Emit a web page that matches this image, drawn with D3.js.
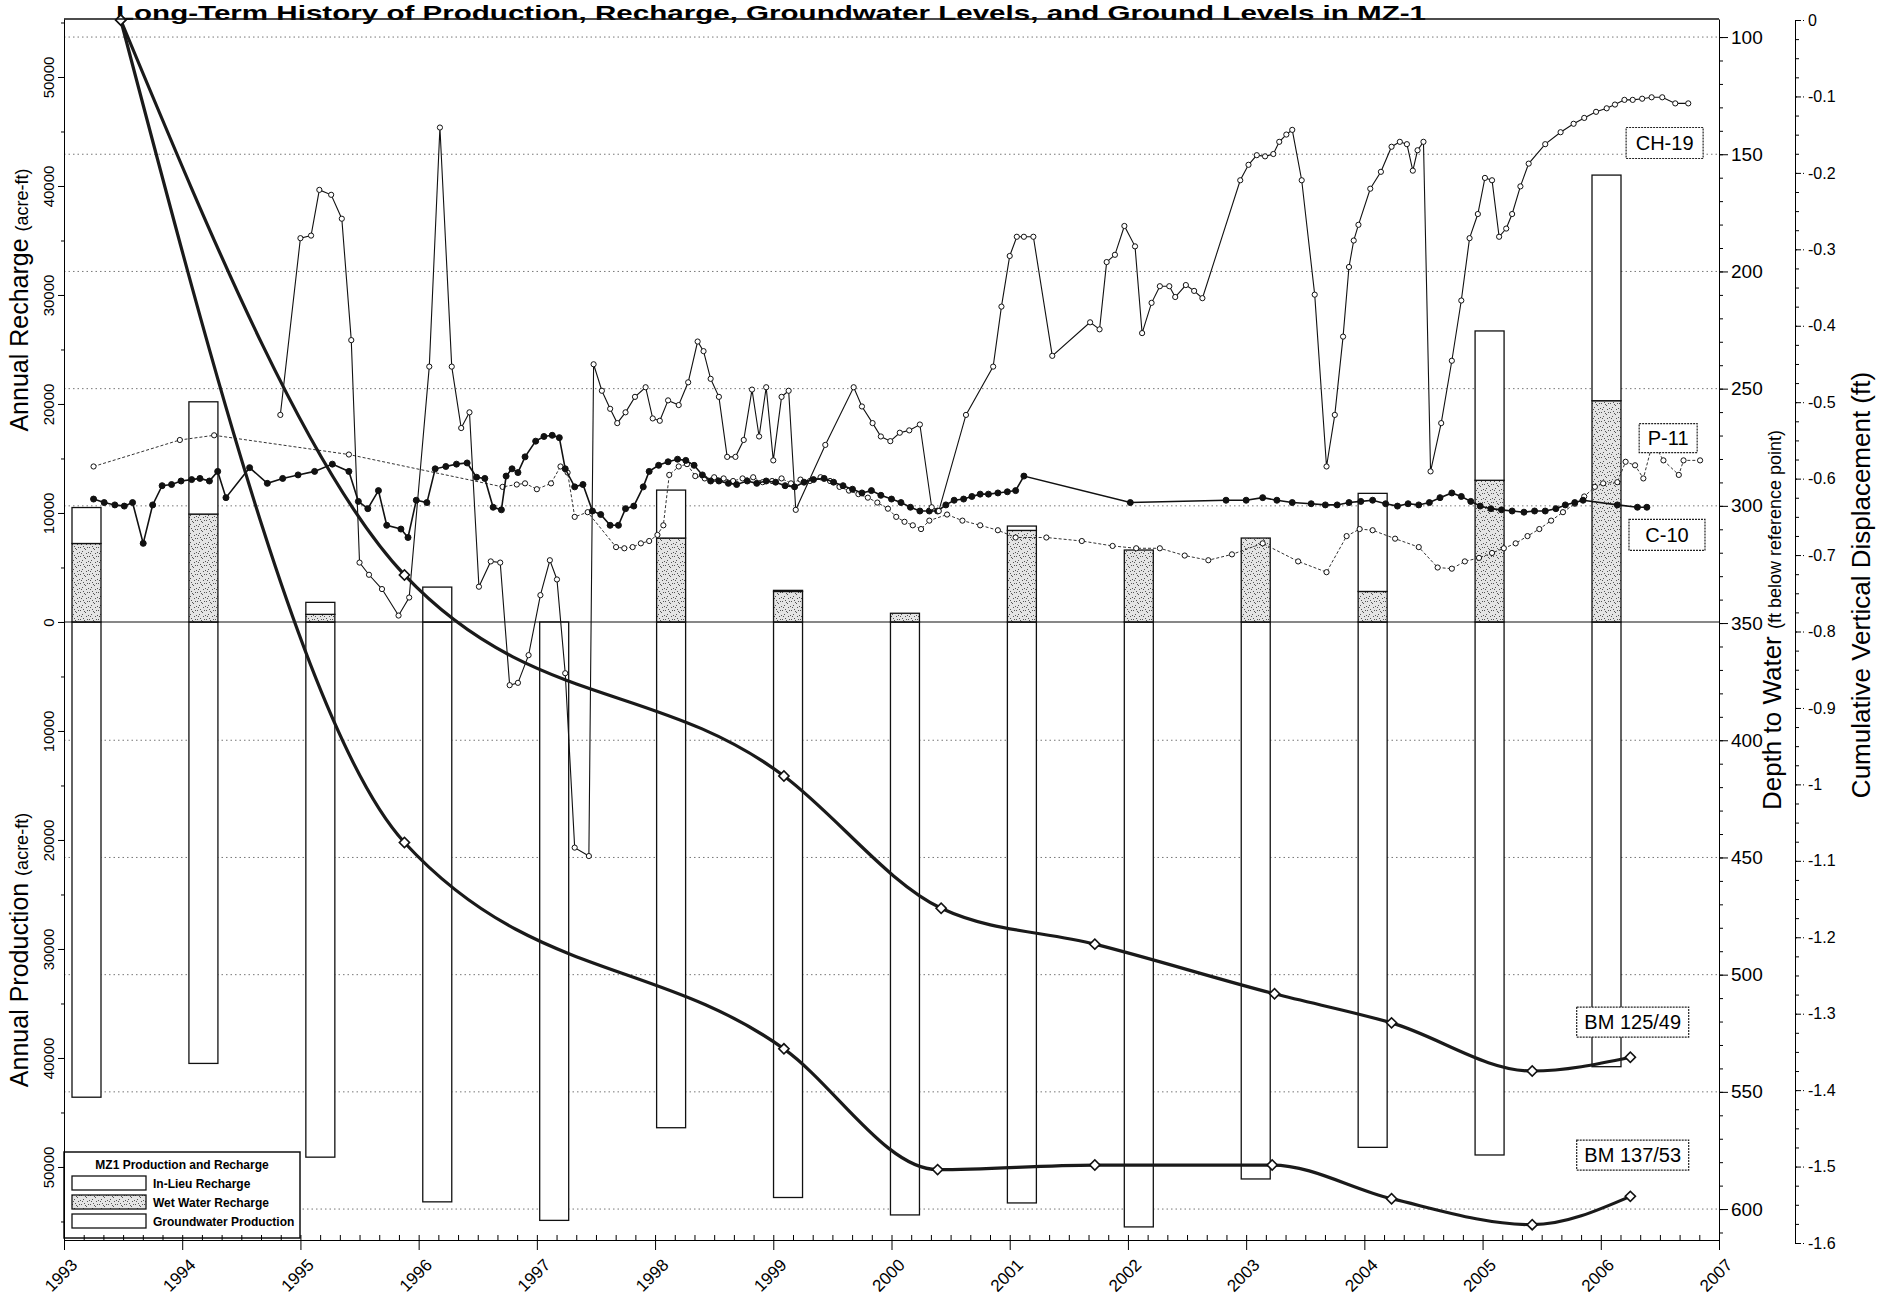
<!DOCTYPE html>
<html>
<head>
<meta charset="utf-8">
<script src="https://cdn.jsdelivr.net/npm/d3@7"></script>
<style>
  body { margin: 0; background: #fff; }
  svg { display: block; font-family: Arial, "Liberation Sans", sans-serif; }
</style>
</head>
<body>
<div id="chart"></div>
<script>
// annual volumes (acre-ft)
const years = [1993, 1994, 1995, 1996, 1997, 1998, 1999, 2000, 2001, 2002, 2003, 2004, 2005, 2006];
const wetRecharge = [7200, 9900, 700, 0, 0, 7700, 2800, 800, 8400, 6600, 7700, 2800, 13000, 20300];
const inLieuRecharge = [3300, 10300, 1100, 3200, 0, 4400, 100, 0, 400, 0, 0, 9000, 13700, 20700];
const gwProduction = [43600, 40500, 49100, 53200, 54900, 46400, 52800, 54400, 53300, 55500, 51100, 48200, 48900, 40800];

// depth to water [year, ft below reference point]
const ch19 = [
  [1994.83, 261.2], [1995.00, 185.8], [1995.09, 184.7], [1995.16, 165.2], [1995.26, 167.3], [1995.35, 177.5],
  [1995.43, 229.3], [1995.50, 324.2], [1995.58, 329.4], [1995.69, 335.5], [1995.83, 346.8], [1995.92, 339.1],
  [1996.09, 240.6], [1996.18, 138.6], [1996.28, 240.6], [1996.36, 266.8], [1996.43, 260.1], [1996.51, 334.5],
  [1996.61, 323.7], [1996.69, 324.2], [1996.77, 376.5], [1996.84, 375.5], [1996.93, 363.7], [1997.03, 338.1],
  [1997.11, 323.2], [1997.17, 331.4], [1997.24, 371.4], [1997.32, 445.8], [1997.44, 449.4], [1997.48, 239.6],
  [1997.55, 250.9], [1997.62, 258.6], [1997.68, 264.7], [1997.75, 260.1], [1997.83, 253.5], [1997.92, 249.4],
  [1997.98, 262.7], [1998.04, 263.7], [1998.11, 255.0], [1998.20, 257.0], [1998.28, 247.3], [1998.36, 229.9],
  [1998.41, 234.0], [1998.47, 245.8], [1998.54, 253.5], [1998.61, 279.1], [1998.68, 279.1], [1998.75, 271.9],
  [1998.82, 250.4], [1998.88, 270.4], [1998.94, 249.4], [1999.00, 280.6], [1999.07, 253.5], [1999.13, 250.9],
  [1999.19, 301.7], [1999.44, 274.0], [1999.68, 249.4], [1999.75, 257.6], [1999.84, 264.7], [1999.91, 270.4],
  [1999.99, 272.4], [2000.07, 268.8], [2000.15, 267.8], [2000.24, 265.3], [2000.34, 300.6], [2000.40, 302.2],
  [2000.63, 261.2], [2000.86, 240.6], [2000.93, 215.0], [2001.00, 193.4], [2001.06, 185.2], [2001.12, 185.2],
  [2001.20, 185.2], [2001.36, 236.0], [2001.68, 221.7], [2001.76, 224.7], [2001.82, 196.0], [2001.89, 192.9],
  [2001.97, 180.6], [2002.06, 189.3], [2002.12, 226.3], [2002.20, 213.4], [2002.27, 206.3], [2002.35, 206.3],
  [2002.40, 210.9], [2002.49, 205.8], [2002.56, 208.3], [2002.63, 211.4], [2002.95, 161.1], [2003.02, 154.5],
  [2003.09, 150.4], [2003.16, 150.9], [2003.23, 149.9], [2003.28, 144.7], [2003.34, 141.6], [2003.39, 139.6],
  [2003.47, 161.1], [2003.58, 209.9], [2003.68, 283.2], [2003.75, 261.2], [2003.82, 227.8], [2003.87, 198.1],
  [2003.91, 186.8], [2003.95, 180.1], [2004.05, 164.7], [2004.14, 157.5], [2004.23, 146.8], [2004.30, 144.7],
  [2004.36, 145.7], [2004.41, 157.0], [2004.45, 148.3], [2004.50, 144.7], [2004.56, 285.3], [2004.65, 264.7],
  [2004.74, 238.1], [2004.82, 212.4], [2004.89, 185.8], [2004.96, 175.5], [2005.02, 160.1], [2005.08, 161.1],
  [2005.14, 185.2], [2005.20, 181.7], [2005.25, 175.5], [2005.32, 163.7], [2005.39, 154.0], [2005.53, 145.7],
  [2005.66, 140.6], [2005.77, 137.0], [2005.86, 134.5], [2005.96, 131.9], [2006.05, 130.4], [2006.12, 128.8],
  [2006.20, 126.8], [2006.27, 126.8], [2006.35, 126.3], [2006.43, 125.7], [2006.52, 125.7], [2006.63, 128.3],
  [2006.74, 128.3]
];
const p11 = [
  [1993.25, 283.2], [1993.98, 271.9], [1994.27, 269.9], [1995.41, 278.1], [1996.71, 291.9], [1996.83, 290.9],
  [1996.90, 290.4], [1997.00, 292.9], [1997.12, 290.4], [1997.20, 283.2], [1997.26, 285.8], [1997.32, 304.7],
  [1997.43, 302.7], [1997.67, 317.6], [1997.74, 318.1], [1997.81, 317.6], [1997.88, 316.0], [1997.95, 315.0],
  [1998.02, 312.4], [1998.07, 308.3], [1998.12, 286.8], [1998.20, 283.2], [1998.27, 282.2], [1998.34, 287.3],
  [1998.42, 288.3], [1998.50, 287.8], [1998.58, 288.3], [1998.66, 289.4], [1998.74, 288.3], [1998.83, 287.8],
  [1998.91, 289.9], [1998.99, 289.4], [1999.07, 288.3], [1999.15, 290.4], [1999.23, 288.8], [1999.31, 289.4],
  [1999.40, 287.8], [1999.48, 289.4], [1999.56, 291.9], [1999.64, 293.5], [1999.72, 295.0], [1999.80, 296.5],
  [1999.88, 298.6], [1999.97, 301.2], [2000.04, 304.7], [2000.11, 306.8], [2000.18, 308.3], [2000.25, 309.9],
  [2000.32, 306.3], [2000.47, 303.7], [2000.60, 306.3], [2000.75, 308.3], [2000.90, 310.4], [2001.05, 313.5],
  [2001.31, 313.5], [2001.61, 315.0], [2001.87, 317.1], [2002.07, 318.1], [2002.27, 318.1], [2002.48, 321.2],
  [2002.68, 323.2], [2002.88, 320.7], [2003.14, 316.0], [2003.44, 323.7], [2003.68, 328.3], [2003.85, 312.9],
  [2003.96, 309.9], [2004.07, 310.4], [2004.26, 314.0], [2004.46, 317.6], [2004.62, 326.3], [2004.74, 326.8],
  [2004.85, 323.7], [2004.97, 322.2], [2005.08, 320.1], [2005.18, 318.1], [2005.28, 316.0], [2005.38, 312.9],
  [2005.48, 309.9], [2005.58, 306.3], [2005.68, 302.7], [2005.78, 299.1], [2005.86, 296.0], [2005.95, 291.9],
  [2006.02, 290.4], [2006.14, 289.9], [2006.21, 281.2], [2006.29, 282.7], [2006.36, 288.3], [2006.44, 272.9],
  [2006.53, 280.6], [2006.66, 286.8], [2006.70, 280.6], [2006.84, 280.6]
];
const c10 = [
  [1993.25, 297.1], [1993.34, 298.6], [1993.43, 299.6], [1993.51, 300.1], [1993.58, 298.6], [1993.67, 316.0],
  [1993.75, 299.6], [1993.83, 291.4], [1993.91, 290.9], [1993.99, 289.4], [1994.08, 288.8], [1994.15, 288.3],
  [1994.23, 289.4], [1994.30, 285.3], [1994.37, 296.5], [1994.57, 283.7], [1994.72, 290.4], [1994.85, 288.3],
  [1994.98, 286.8], [1995.12, 285.3], [1995.27, 282.2], [1995.41, 285.3], [1995.49, 298.1], [1995.57, 301.2],
  [1995.66, 293.5], [1995.73, 308.3], [1995.85, 309.9], [1995.91, 313.5], [1995.98, 297.6], [1996.07, 298.6],
  [1996.14, 284.2], [1996.23, 283.2], [1996.32, 282.2], [1996.41, 281.7], [1996.49, 287.8], [1996.56, 288.3],
  [1996.63, 300.6], [1996.70, 301.7], [1996.74, 287.3], [1996.79, 284.2], [1996.84, 285.8], [1996.90, 279.1],
  [1996.99, 272.4], [1997.06, 270.4], [1997.13, 269.9], [1997.19, 270.9], [1997.24, 284.2], [1997.32, 291.9],
  [1997.39, 290.9], [1997.47, 302.2], [1997.54, 303.7], [1997.62, 308.3], [1997.69, 308.3], [1997.75, 301.2],
  [1997.82, 300.1], [1997.90, 291.9], [1997.95, 285.3], [1998.03, 282.7], [1998.11, 281.2], [1998.19, 280.1],
  [1998.26, 280.6], [1998.33, 282.7], [1998.40, 286.8], [1998.47, 289.4], [1998.54, 289.4], [1998.62, 290.4],
  [1998.69, 290.9], [1998.78, 289.4], [1998.86, 290.4], [1998.94, 289.4], [1999.02, 289.9], [1999.10, 291.4],
  [1999.18, 291.9], [1999.26, 289.9], [1999.34, 288.8], [1999.43, 288.3], [1999.51, 289.9], [1999.59, 291.4],
  [1999.67, 292.9], [1999.75, 294.5], [1999.83, 293.5], [1999.91, 295.5], [2000.00, 297.1], [2000.08, 298.6],
  [2000.16, 300.6], [2000.24, 302.2], [2000.32, 302.2], [2000.39, 302.2], [2000.46, 299.6], [2000.53, 297.6],
  [2000.61, 297.1], [2000.68, 296.0], [2000.75, 295.0], [2000.82, 295.0], [2000.90, 294.5], [2000.98, 294.0],
  [2001.05, 293.5], [2001.12, 287.3], [2002.02, 298.6], [2002.83, 297.6], [2003.00, 297.6], [2003.14, 296.5],
  [2003.26, 297.6], [2003.39, 298.6], [2003.55, 299.1], [2003.67, 299.6], [2003.77, 299.6], [2003.87, 298.6],
  [2003.97, 298.1], [2004.07, 297.6], [2004.18, 299.1], [2004.28, 300.1], [2004.37, 299.1], [2004.46, 299.6],
  [2004.55, 298.6], [2004.64, 296.5], [2004.74, 294.5], [2004.82, 296.0], [2004.90, 298.1], [2004.98, 300.1],
  [2005.07, 301.2], [2005.16, 301.7], [2005.25, 302.2], [2005.35, 302.7], [2005.44, 302.2], [2005.53, 302.2],
  [2005.62, 301.2], [2005.70, 299.6], [2005.78, 298.6], [2005.85, 297.6], [2006.14, 299.6], [2006.31, 300.6],
  [2006.39, 300.6]
];

// cumulative vertical displacement [year, ft]
const bm12549 = [
  [1993.48, 0], [1995.88, -0.726], [1999.09, -0.989], [2000.42, -1.162], [2001.72, -1.209],
  [2003.24, -1.274], [2004.23, -1.312], [2005.42, -1.375], [2006.25, -1.357]
];
const bm13753 = [
  [1993.48, 0], [1995.88, -1.076], [1999.09, -1.346], [2000.39, -1.504], [2001.72, -1.498],
  [2003.22, -1.498], [2004.23, -1.542], [2005.42, -1.576], [2006.25, -1.539]
];

const yearTicks = d3.range(1993, 2008);
const volumeTicks = d3.range(-50000, 50001, 10000);
const depthTicks = d3.range(100, 601, 50);
const displacementTicks = d3.range(0, 17).map(d => -d / 10);

const W = 1885, H = 1301;
const dim = { left: 64, right: 1719, top: 19, bottom: 1240 };

const svg = d3.select("#chart").append("svg").attr("width", W).attr("height", H);

const x = d3.scaleLinear().domain([1993, 2007]).range([dim.left, dim.right]);
// the annual bars sit on their own category axis
const xBar = d3.scaleBand().domain(years).range([72, 1621]).paddingInner(0.752).paddingOuter(0);
const yVol = d3.scaleLinear().domain([-56700, 55320]).range([dim.bottom, dim.top]);
const yDepth = d3.scaleLinear().domain([92.3, 613.2]).range([dim.top, dim.bottom]);
const yDisp = d3.scaleLinear().domain([-1.6, 0]).range([1243, 20]);

// stipple texture for wet water recharge
const pat = svg.append("defs").append("pattern")
  .attr("id", "stipple").attr("patternUnits", "userSpaceOnUse")
  .attr("width", 9).attr("height", 9);
pat.append("rect").attr("width", 9).attr("height", 9).attr("fill", "#e4e4e4");
pat.selectAll("rect.dot")
  .data([[1, 2], [4, 0], [7, 3], [2, 6], [5, 4], [8, 7], [3, 8], [6, 7], [0, 4]])
  .enter().append("rect").attr("class", "dot")
  .attr("x", d => d[0]).attr("y", d => d[1]).attr("width", 1).attr("height", 1)
  .attr("fill", "#555");

// title squeezed above the frame
svg.append("text")
  .attr("x", 116).attr("y", 20)
  .attr("textLength", 1310).attr("lengthAdjust", "spacingAndGlyphs")
  .style("font-size", "21px").style("font-weight", "bold")
  .text("Long-Term History of Production, Recharge, Groundwater Levels, and Ground Levels in MZ-1");

// dotted grid at depth ticks
svg.append("g").selectAll("line")
  .data(depthTicks.filter(d => d !== 350))
  .enter().append("line")
  .attr("x1", dim.left).attr("x2", dim.right)
  .attr("y1", d => yDepth(d)).attr("y2", d => yDepth(d))
  .attr("stroke", "#777").attr("stroke-width", 1).attr("stroke-dasharray", "1.5,3");

// bars
const bw = xBar.bandwidth();
const bars = svg.append("g").attr("stroke", "#111").attr("stroke-width", 1.3);
bars.selectAll(".prod").data(years).enter().append("rect")
  .attr("x", d => xBar(d)).attr("width", bw)
  .attr("y", yVol(0))
  .attr("height", (d, i) => yVol(-gwProduction[i]) - yVol(0))
  .attr("fill", "#fff");
bars.selectAll(".wet").data(years.filter((d, i) => wetRecharge[i] > 0)).enter().append("rect")
  .attr("x", d => xBar(d)).attr("width", bw)
  .attr("y", d => yVol(wetRecharge[years.indexOf(d)]))
  .attr("height", d => yVol(0) - yVol(wetRecharge[years.indexOf(d)]))
  .attr("fill", "url(#stipple)");
bars.selectAll(".inlieu").data(years.filter((d, i) => inLieuRecharge[i] > 0)).enter().append("rect")
  .attr("x", d => xBar(d)).attr("width", bw)
  .attr("y", d => { var i = years.indexOf(d); return yVol(wetRecharge[i] + inLieuRecharge[i]); })
  .attr("height", d => { var i = years.indexOf(d); return yVol(wetRecharge[i]) - yVol(wetRecharge[i] + inLieuRecharge[i]); })
  .attr("fill", "#fff");

// zero line
svg.append("line")
  .attr("x1", dim.left).attr("x2", dim.right)
  .attr("y1", yVol(0)).attr("y2", yVol(0))
  .attr("stroke", "#111").attr("stroke-width", 1.2);

// wells
function drawWell(data, opts) {
  var line = d3.line().x(d => x(d[0])).y(d => yDepth(d[1]));
  svg.append("path").datum(data)
    .attr("d", line).attr("fill", "none")
    .attr("stroke", opts.stroke).attr("stroke-width", opts.width)
    .attr("stroke-dasharray", opts.dash || null);
  svg.append("g").selectAll("circle").data(data).enter().append("circle")
    .attr("cx", d => x(d[0])).attr("cy", d => yDepth(d[1]))
    .attr("r", opts.r).attr("fill", opts.fill)
    .attr("stroke", "#111").attr("stroke-width", 1);
}
drawWell(p11, { stroke: "#333", width: 1, dash: "3,2", r: 2.6, fill: "#fff" });
drawWell(c10, { stroke: "#111", width: 1.6, r: 3, fill: "#111" });
drawWell(ch19, { stroke: "#111", width: 1.1, r: 2.6, fill: "#fff" });

// benchmarks
function drawBenchmark(data) {
  var line = d3.line().curve(d3.curveMonotoneX).x(d => x(d[0])).y(d => yDisp(d[1]));
  svg.append("path").datum(data)
    .attr("d", line).attr("fill", "none")
    .attr("stroke", "#1a1a1a").attr("stroke-width", 3.2);
  svg.append("g").selectAll("path").data(data).enter().append("path")
    .attr("d", d3.symbol().type(d3.symbolSquare).size(52))
    .attr("transform", d => "translate(" + x(d[0]) + "," + yDisp(d[1]) + ") rotate(45)")
    .attr("fill", "#fff").attr("stroke", "#111").attr("stroke-width", 1.6);
}
drawBenchmark(bm12549);
drawBenchmark(bm13753);

// series labels
function drawLabel(text, cx, cy, w, h) {
  svg.append("rect")
    .attr("x", cx - w / 2).attr("y", cy - h / 2).attr("width", w).attr("height", h)
    .attr("fill", "#fff").attr("stroke", "#222").attr("stroke-width", 1.2)
    .attr("stroke-dasharray", "2,1");
  svg.append("text")
    .attr("x", cx).attr("y", cy + 7)
    .attr("text-anchor", "middle")
    .style("font-size", "20px")
    .text(text);
}
drawLabel("CH-19", x(2006.54), yDepth(145.2), 77, 31);
drawLabel("P-11", x(2006.57), yDepth(271.1), 58, 29);
drawLabel("C-10", x(2006.56), yDepth(312.4), 76, 31);
drawLabel("BM 125/49", x(2006.27), yDisp(-1.311), 112, 30);
drawLabel("BM 137/53", x(2006.27), yDisp(-1.485), 112, 30);

// legend
var lg = svg.append("g").attr("transform", "translate(64,1152)");
lg.append("rect").attr("width", 236).attr("height", 86)
  .attr("fill", "#fff").attr("stroke", "#111").attr("stroke-width", 1.5);
lg.append("text").attr("x", 118).attr("y", 17).attr("text-anchor", "middle")
  .style("font-size", "12px").style("font-weight", "bold")
  .text("MZ1 Production and Recharge");
var legendItems = ["In-Lieu Recharge", "Wet Water Recharge", "Groundwater Production"];
legendItems.forEach(function (name, i) {
  lg.append("rect").attr("x", 8).attr("y", 24 + i * 19).attr("width", 74).attr("height", 14)
    .attr("fill", i === 1 ? "url(#stipple)" : "#fff")
    .attr("stroke", "#111").attr("stroke-width", 1.3);
  lg.append("text").attr("x", 89).attr("y", 36 + i * 19)
    .style("font-size", "12px").style("font-weight", "bold")
    .text(name);
});

// frame top
svg.append("line")
  .attr("x1", dim.left).attr("x2", dim.right)
  .attr("y1", dim.top).attr("y2", dim.top)
  .attr("stroke", "#111").attr("stroke-width", 1.5);

// left axis
var leftAxis = svg.append("g").attr("transform", "translate(" + dim.left + ",0)")
  .call(d3.axisLeft(yVol).tickValues(volumeTicks).tickSize(6).tickSizeOuter(0).tickFormat(d => Math.abs(d)));
leftAxis.selectAll("text")
  .attr("transform", "rotate(-90)").attr("x", 0).attr("y", -10).attr("dy", 0)
  .attr("text-anchor", "middle").style("font-size", "15px").style("font-family", "Arial, 'Liberation Sans', sans-serif");
svg.append("g").attr("transform", "translate(" + dim.left + ",0)")
  .call(d3.axisLeft(yVol).tickValues(d3.range(-55000, 55001, 5000)).tickSize(3).tickFormat(""))
  .select(".domain").remove();

var lab1 = svg.append("text").attr("transform", "translate(28,300) rotate(-90)")
  .attr("text-anchor", "middle").style("font-size", "25px");
lab1.append("tspan").text("Annual Recharge ");
lab1.append("tspan").style("font-size", "18px").text("(acre-ft)");
var lab2 = svg.append("text").attr("transform", "translate(28,950) rotate(-90)")
  .attr("text-anchor", "middle").style("font-size", "25px");
lab2.append("tspan").text("Annual Production ");
lab2.append("tspan").style("font-size", "18px").text("(acre-ft)");

// bottom axis
var bottomAxis = svg.append("g").attr("transform", "translate(0," + dim.bottom + ")")
  .call(d3.axisBottom(x).tickValues(yearTicks).tickSize(10).tickSizeOuter(0).tickFormat(d3.format("d")));
bottomAxis.selectAll("text")
  .attr("transform", "translate(14,26) rotate(-45)").attr("x", 0).attr("y", 0).attr("dy", 0)
  .attr("text-anchor", "end").style("font-size", "17px").style("font-family", "Arial, 'Liberation Sans', sans-serif");
svg.append("g").attr("transform", "translate(0," + dim.bottom + ")")
  .call(d3.axisBottom(x).tickValues(d3.range(0, 85).map(d => 1993 + d / 6)).tickSize(-5).tickFormat(""))
  .select(".domain").remove();

// depth axis
var depthAxis = svg.append("g").attr("transform", "translate(" + dim.right + ",0)")
  .call(d3.axisRight(yDepth).tickValues(depthTicks).tickSize(9).tickSizeOuter(0));
depthAxis.selectAll("text").attr("x", 12).style("font-size", "19px").style("font-family", "Arial, 'Liberation Sans', sans-serif");
svg.append("g").attr("transform", "translate(" + dim.right + ",0)")
  .call(d3.axisRight(yDepth).tickValues(d3.range(100, 611, 10)).tickSize(4).tickFormat(""))
  .select(".domain").remove();
var lab3 = svg.append("text").attr("transform", "translate(1781,620) rotate(-90)")
  .attr("text-anchor", "middle").style("font-size", "26px");
lab3.append("tspan").text("Depth to Water ");
lab3.append("tspan").style("font-size", "18px").text("(ft below reference point)");

// displacement axis
var dispAxis = svg.append("g").attr("transform", "translate(1795,0)")
  .call(d3.axisRight(yDisp).tickValues(displacementTicks).tickSize(9).tickSizeOuter(6)
    .tickFormat(d => String(Math.round(d * 10) / 10)));
dispAxis.selectAll(".tick line").attr("stroke-dasharray", "2,2");
dispAxis.selectAll("text").attr("x", 13).style("font-size", "16px").style("font-family", "Arial, 'Liberation Sans', sans-serif");
svg.append("g").attr("transform", "translate(1795,0)")
  .call(d3.axisRight(yDisp).tickValues(d3.range(0, 65).map(d => -d * 0.025)).tickSize(4).tickFormat(""))
  .select(".domain").remove();
svg.append("text").attr("transform", "translate(1870,585) rotate(-90)")
  .attr("text-anchor", "middle").style("font-size", "26px")
  .text("Cumulative Vertical Displacement (ft)");
</script>
</body>
</html>
